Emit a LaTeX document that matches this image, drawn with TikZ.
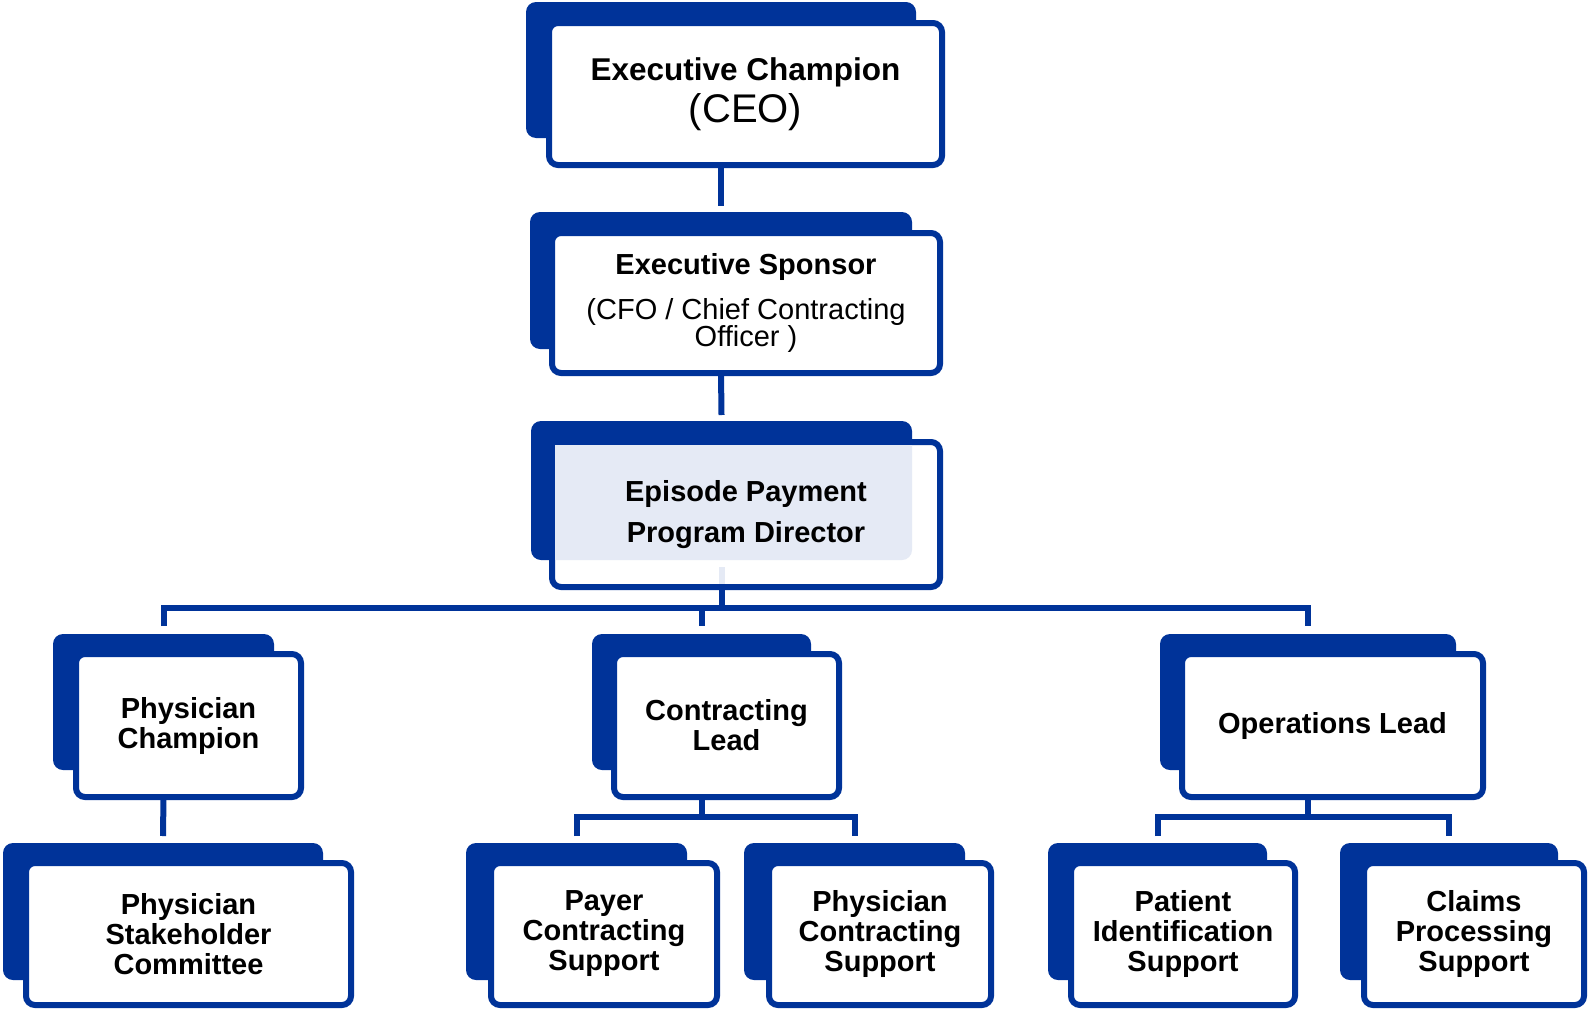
\documentclass[tikz,border=0pt]{standalone}
\usepackage{fontspec}
\setmainfont{Liberation Sans}
\usetikzlibrary{calc}
\definecolor{dblue}{RGB}{0,51,153}
\definecolor{lblue}{RGB}{229,234,245}
\lineskiplimit=-100pt
\begin{document}
\begin{tikzpicture}[x=1pt,y=-1pt,
  backbox/.style={fill=dblue, draw=none, rounded corners=10pt, inner sep=0pt, outer sep=0pt},
  frontbox/.style={fill=white, draw=dblue, line width=6pt, rounded corners=9pt, inner sep=0pt, outer sep=0pt, align=center, text=black, font=\fontsize{29}{30}\selectfont\bfseries},
  conn/.style={draw=dblue, line width=6pt},
]
\fill[white] (0,0) rectangle (1589,1009);
\useasboundingbox (0,0) rectangle (1589,1009);

% CEO
\node[backbox, minimum width=390pt, minimum height=136pt] (ceoB) at (721,70) {};
\node[frontbox, minimum width=393pt, minimum height=142pt, font=\fontsize{31.5}{42}\selectfont\bfseries] (ceo) at (745.5,94) {Executive Champion\\{\fontsize{40}{42}\selectfont\mdseries (CEO)}};

% Sponsor
\node[backbox, minimum width=382pt, minimum height=137pt] (spoB) at (721,280.5) {};
\node[frontbox, minimum width=388pt, minimum height=140pt, font=\fontsize{29}{27}\selectfont] (spo) at (746,303) {{\bfseries Executive Sponsor}\\[18pt](CFO / Chief Contracting\\Officer )};

% Director
\node[backbox, minimum width=381pt, minimum height=139pt] (dirB) at (721.5,490.5) {};
\node[frontbox, minimum width=388pt, minimum height=145pt] (dir) at (746,514.5) {};
\begin{scope}
\clip ($(dir.north west)+(3,3)$) rectangle ($(dir.south east)+(-3,-3)$);
\fill[lblue, rounded corners=10pt] (dirB.north west) rectangle (dirB.south east);
\end{scope}
\node[font=\fontsize{29}{41}\selectfont\bfseries, align=center, inner sep=0pt] (dirT) at (dir.center) {Episode Payment\\Program Director};

% Row 4
\node[backbox, minimum width=221pt, minimum height=136pt] (pcB) at (163.5,702) {};
\node[frontbox, minimum width=225pt, minimum height=143pt] (pc) at (188.5,725.5) {Physician\\Champion};
\node[backbox, minimum width=219pt, minimum height=136pt] (clB) at (701.5,702) {};
\node[frontbox, minimum width=225pt, minimum height=143pt] (cl) at (726.5,725.5) {Contracting\\Lead};
\node[backbox, minimum width=296pt, minimum height=136pt] (olB) at (1308,702) {};
\node[frontbox, minimum width=301pt, minimum height=143pt] (ol) at (1332.5,725.5) {Operations Lead};

% Row 5
\node[backbox, minimum width=320pt, minimum height=137pt] (pscB) at (163,911.5) {};
\node[frontbox, minimum width=325pt, minimum height=142pt] (psc) at (188.5,934) {Physician\\Stakeholder\\Committee};
\node[backbox, minimum width=221pt, minimum height=137pt] (payB) at (576.5,911.5) {};
\node[frontbox, minimum width=226pt, minimum height=142pt] (pay) at (604,934) {Payer\\Contracting\\Support};
\node[backbox, minimum width=221pt, minimum height=137pt] (pcsB) at (854.5,911.5) {};
\node[frontbox, minimum width=222pt, minimum height=142pt] (pcs) at (880,934) {Physician\\Contracting\\Support};
\node[backbox, minimum width=219pt, minimum height=137pt] (patB) at (1157.5,911.5) {};
\node[frontbox, minimum width=224pt, minimum height=142pt] (pat) at (1183,934) {Patient\\Identification\\Support};
\node[backbox, minimum width=218pt, minimum height=137pt] (clmB) at (1449,911.5) {};
\node[frontbox, minimum width=220pt, minimum height=142pt] (clm) at (1474,934) {Claims\\Processing\\Support};

% Connectors
\draw[conn] (ceoB.south |- ceo.south) -- ($(spoB.north)+(0,-6)$);
\draw[conn] (spoB.south |- spo.south) -- ($(dirB.north)+(0,-6)$);
\draw[conn, draw=lblue] ($(dirB.south)+(0,7)$) -- ($(dirB.south |- dir.south)+(0,-3)$);
\coordinate (bus) at (721.5,608);
\draw[conn] (dirB.south |- dir.south) -- (bus);
\draw[conn] ($(pcB.north)+(0,-8)$) |- (bus) -| ($(olB.north)+(0,-8)$);
\draw[conn] (bus -| clB.north) -- ($(clB.north)+(0,-8)$);

\coordinate (clbus) at (701.5,817);
\draw[conn] (clB.south |- cl.south) -- (clbus);
\draw[conn] ($(payB.north)+(0,-7)$) |- (clbus) -| ($(pcsB.north)+(0,-7)$);
\coordinate (olbus) at (1308,817);
\draw[conn] (olB.south |- ol.south) -- (olbus);
\draw[conn] ($(patB.north)+(0,-7)$) |- (olbus) -| ($(clmB.north)+(0,-7)$);
\draw[conn] (pcB.south |- pc.south) -- ($(pscB.north)+(0,-7)$);
\end{tikzpicture}
\end{document}
